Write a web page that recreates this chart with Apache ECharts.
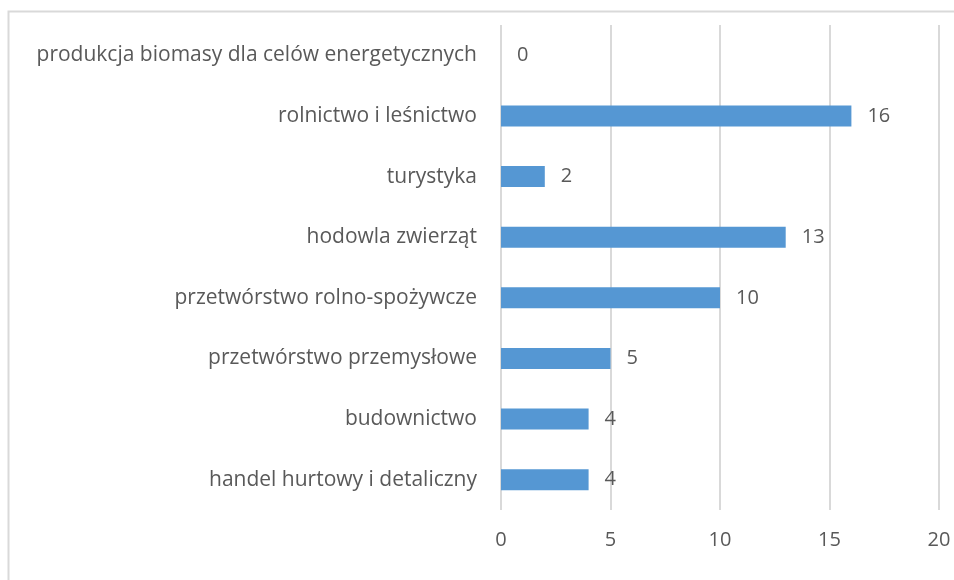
<!DOCTYPE html>
<html>
<head>
<meta charset="utf-8">
<script src="https://cdn.jsdelivr.net/npm/echarts@6/dist/echarts.min.js"></script>
<style>
  html, body { margin: 0; padding: 0; background: #fff; }
  #chart { width: 954px; height: 580px; }
</style>
</head>
<body>
<div id="chart"></div>
<script>
// Categories listed bottom to top (category axis grows upward)
const categories = [
  'handel hurtowy i detaliczny',
  'budownictwo',
  'przetwórstwo przemysłowe',
  'przetwórstwo rolno-spożywcze',
  'hodowla zwierząt',
  'turystyka',
  'rolnictwo i leśnictwo',
  'produkcja biomasy dla celów energetycznych'
];
const values = [4, 4, 5, 10, 13, 2, 16, 0];
const axisMin = 0;
const axisMax = 20;
const axisStep = 5;

const textColor = '#595959';
const fontFamily = '"Open Sans", "Noto Sans", sans-serif';

const chart = echarts.init(document.getElementById('chart'), null, { renderer: 'canvas' });
chart.setOption({
  animation: false,
  backgroundColor: '#ffffff',
  graphic: [{
    type: 'rect',
    shape: { x: 8.5, y: 11.5, width: 1000, height: 1000 },
    style: { fill: 'none', stroke: '#d9d9d9', lineWidth: 2 },
    silent: true
  }],
  grid: { left: 501, right: 15, top: 25, bottom: 70, containLabel: false },
  xAxis: {
    type: 'value',
    min: axisMin,
    max: axisMax,
    interval: axisStep,
    axisLine: { show: false },
    axisTick: { show: false },
    splitLine: { show: true, lineStyle: { color: '#d9d9d9', width: 2 } },
    axisLabel: { color: textColor, fontSize: 20, fontFamily: fontFamily, margin: 20 }
  },
  yAxis: {
    type: 'category',
    data: categories,
    axisLine: { show: false },
    axisTick: { show: false },
    splitLine: { show: false },
    axisLabel: { color: textColor, fontSize: 21, fontFamily: fontFamily, margin: 24 }
  },
  series: [{
    type: 'bar',
    data: values,
    barWidth: 21,
    itemStyle: { color: '#5597d3' },
    label: {
      show: true,
      position: 'right',
      distance: 16,
      color: textColor,
      fontSize: 20,
      fontFamily: fontFamily
    }
  }]
});
</script>
</body>
</html>
